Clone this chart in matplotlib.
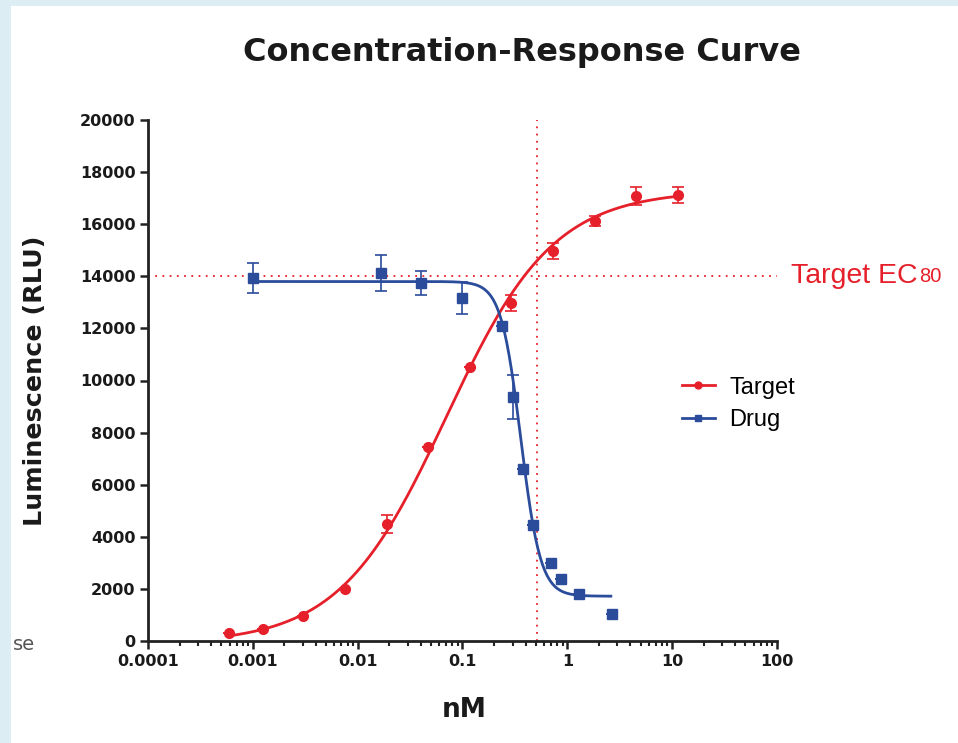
import numpy as np
import matplotlib
matplotlib.use('Agg')
import matplotlib.pyplot as plt
from matplotlib.patches import Rectangle
from matplotlib.ticker import LogLocator, NullFormatter, FixedLocator, FixedFormatter

# Target series
target_x = [0.00059, 0.00124, 0.0030, 0.0075, 0.0189, 0.047, 0.117, 0.293, 0.736, 1.85, 4.54, 11.4]
target_y = [300, 460, 960, 2000, 4490, 7450, 10520, 12975, 14970, 16120, 17080, 17120]
target_err = [0, 0, 0, 0, 350, 0, 0, 300, 300, 200, 350, 300]

# Drug series
drug_x = [0.001, 0.0166, 0.0398, 0.10, 0.24, 0.306, 0.381, 0.475, 0.70, 0.877, 1.30, 2.68]
drug_y = [13935, 14130, 13740, 13170, 12090, 9370, 6600, 4450, 2990, 2380, 1800, 1040]
drug_err = [580, 700, 450, 600, 0, 850, 0, 0, 0, 0, 0, 0]

# 4PL fit parameters estimated from the drawn curves: bottom, top, ec50, hill
target_fit = (-100, 17300, 0.07, 0.85)
drug_fit = (1720, 13800, 0.36, -4.6)
target_range = (0.00059, 11.4)
drug_range = (0.001, 2.6)

ec80_x = 0.518
ec80_y = 14000

xtick_vals = [1e-4, 1e-3, 1e-2, 1e-1, 1, 10, 100]
xtick_labels = ['0.0001', '0.001', '0.01', '0.1', '1', '10', '100']

red = '#e6202a'
blue = '#2b4c9b'


def four_pl(x, bottom, top, ec50, hill):
    return bottom + (top - bottom) / (1 + (ec50 / x) ** hill)


fig = plt.figure(figsize=(9.58, 7.43), dpi=100)
fig.patch.set_facecolor('#dcedf4')
fig.patches.append(Rectangle((11 / 958, 0), 1, 1 - 6 / 743, transform=fig.transFigure,
                             facecolor='white', edgecolor='none', zorder=-10))

ax = fig.add_axes([148 / 958, 1 - 641 / 743, (777 - 148) / 958, (641 - 120) / 743])
ax.set_facecolor('white')
ax.set_xscale('log')
ax.set_xlim(1e-4, 100)
ax.set_ylim(0, 20000)

# fitted curves
xs = np.logspace(np.log10(target_range[0]), np.log10(target_range[1]), 300)
ax.plot(xs, np.clip(four_pl(xs, *target_fit), 0, None), color=red, lw=2, zorder=3, clip_on=False)
xs = np.logspace(np.log10(drug_range[0]), np.log10(drug_range[1]), 300)
ax.plot(xs, four_pl(xs, *drug_fit), color=blue, lw=2, zorder=3)

# data points
ax.errorbar(target_x, target_y, yerr=target_err, fmt='o', color=red, ms=7,
            capsize=4, elinewidth=1.2, capthick=1.2, zorder=4, clip_on=False)
ax.errorbar(drug_x, drug_y, yerr=drug_err, fmt='s', color=blue, ms=7,
            capsize=4, elinewidth=1.2, capthick=1.2, zorder=4)

# legend handles
h1, = ax.plot([], [], color=red, marker='o', ms=5, lw=2, label='Target')
h2, = ax.plot([], [], color=blue, marker='s', ms=5, lw=2, label='Drug')
ax.legend([h1, h2], ['Target', 'Drug'], loc='center left', bbox_to_anchor=(0.815, 0.455),
          frameon=False, prop={'family': 'Liberation Sans', 'size': 17},
          handlelength=1.4, labelspacing=0.45, handletextpad=0.6)

# EC80 guide lines
ax.axhline(ec80_y, color=red, ls=(0, (1, 3)), lw=1.3, zorder=2)
ax.axvline(ec80_x, color=red, ls=(0, (1, 3)), lw=1.3, zorder=2)
t = fig.text(791 / 958, 1 - 276 / 743, 'Target EC', color=red, fontsize=20.5,
             family='Liberation Sans', va='center', ha='left')

for s in ['top', 'right']:
    ax.spines[s].set_visible(False)
for s in ['left', 'bottom']:
    ax.spines[s].set_linewidth(2)
    ax.spines[s].set_color('#222222')

ax.set_yticks(range(0, 20001, 2000))
ax.xaxis.set_major_locator(FixedLocator(xtick_vals))
ax.xaxis.set_major_formatter(FixedFormatter(xtick_labels))
ax.xaxis.set_minor_locator(LogLocator(base=10, subs=np.arange(2, 10), numticks=20))
ax.xaxis.set_minor_formatter(NullFormatter())
ax.tick_params(axis='both', which='major', length=6, width=1.8, color='#222222',
               labelsize=11.5, pad=3, labelcolor='#1a1a1a')
ax.tick_params(axis='x', which='minor', length=3.5, width=1.5, color='#222222')
for lab in ax.get_xticklabels() + ax.get_yticklabels():
    lab.set_fontweight('bold')

ax.set_xlabel('nM', fontsize=19, fontweight='bold', va='center', color='#1a1a1a')
ax.xaxis.set_label_coords(0.502, -0.133)
ax.set_ylabel('Luminescence (RLU)', fontsize=18.3, fontweight='bold', va='center', color='#1a1a1a')
ax.yaxis.set_label_coords(-0.18, 0.5)
fig.text(522 / 958, 1 - 52 / 743, 'Concentration-Response Curve', fontsize=23, fontweight='bold',
         ha='center', va='center', color='#1a1a1a')
fig.text(24 / 958, 1 - 644 / 743, 'se', fontsize=14, color='#555555', ha='center', va='center')

# small "80" right after "Target EC"
fig.canvas.draw()
bb = t.get_window_extent()
fig.text((bb.x1 + 1) / 958, 1 - 277 / 743, '80', color=red, fontsize=14.5,
         family='Liberation Sans', va='center', ha='left')

plt.savefig('out.png', dpi=100)
plt.close()
